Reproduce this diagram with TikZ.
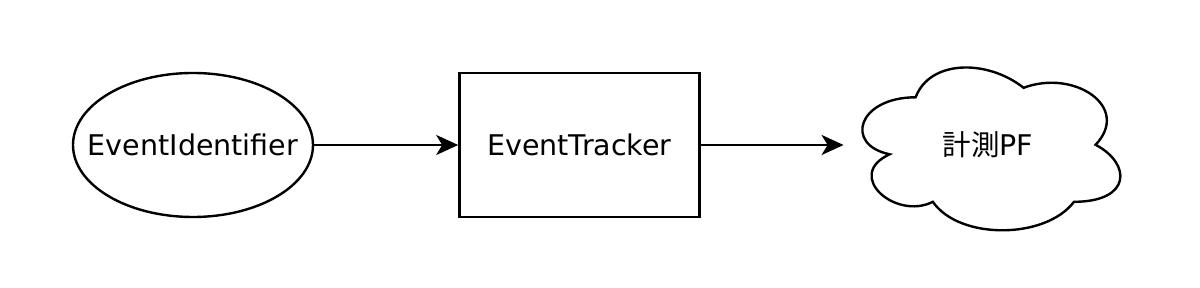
\documentclass[tikz,border=0pt]{standalone}
\usepackage{fontspec}
\setmainfont{DejaVu Sans}
\newfontfamily\jpfont{Noto Sans CJK JP}
\usetikzlibrary{shapes,arrows.meta,positioning}

\begin{document}
\begin{tikzpicture}[
    x=1pt, y=1pt,
    node distance=144pt,
    every node/.style={font=\fontsize{28.5}{34}\selectfont},
    source/.style={draw, ellipse, line width=2.4pt, minimum width=240pt, minimum height=144pt, inner xsep=-30pt, inner ysep=0pt},
    tracker/.style={draw, rectangle, line width=2.4pt, minimum width=240pt, minimum height=144pt},
    target/.style={rectangle, minimum width=288pt, minimum height=190pt},
    link/.style={-{Stealth[length=22pt, width=20pt, inset=6pt]}, line width=2.4pt}
]
    \useasboundingbox (0,0) rectangle (1200,288);

    \node[source] (ident) at (193,143) {EventIdentifier};
    \node[tracker, right=of ident] (track) {EventTracker};
    \node[target, right=143pt of track] (pf) {{\jpfont 計測}PF};

    % cloud outline around the PF node
    \begin{scope}[shift={(pf.north west)}, x=288pt, y=-190pt]
    \draw[line width=2.4pt] (0.25,0.25) .. controls (0.05,0.25) and (0,0.5) .. (0.16,0.55)
        .. controls (0,0.66) and (0.18,0.9) .. (0.31,0.8)
        .. controls (0.4,1) and (0.7,1) .. (0.8,0.8)
        .. controls (1,0.8) and (1,0.6) .. (0.875,0.5)
        .. controls (1,0.3) and (0.8,0.1) .. (0.625,0.2)
        .. controls (0.5,0.05) and (0.3,0.05) .. (0.25,0.25) -- cycle;
    \end{scope}

    \draw[link] (ident) -- (track);
    \draw[link] (track) -- (pf);
\end{tikzpicture}
\end{document}
